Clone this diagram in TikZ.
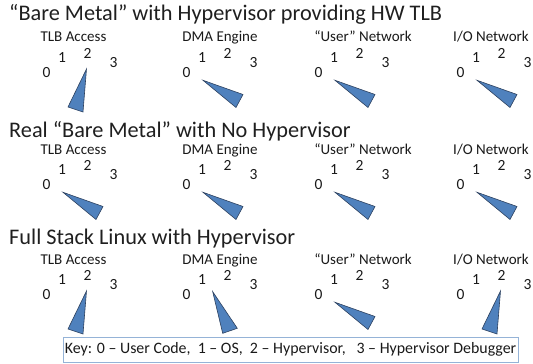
\documentclass[tikz,border=0pt]{standalone}
\usepackage{fontspec}
\setmainfont{Carlito}
\usetikzlibrary{calc}
\definecolor{needlefill}{RGB}{79,129,189}
\definecolor{needleline}{RGB}{45,65,95}
\definecolor{keyline}{RGB}{149,179,215}
\tikzset{
  rowtitle/.style={anchor=base west,inner sep=0pt,font=\fontsize{22.3}{25}\selectfont,text=black!88},
  subtitle/.style={anchor=base,inner sep=0pt,font=\fontsize{15}{17}\selectfont,text=black!90},
  digit/.style={inner sep=0pt,font=\fontsize{15.5}{17}\selectfont,text=black!90},
  needle/.style={fill=needlefill,draw=needleline,line width=0.6pt,line join=miter},
  keybox/.style={draw=keyline,line width=0.8pt,minimum width=455pt,minimum height=25pt,inner sep=0pt,font=\fontsize{15.9}{18}\selectfont,text=black!90}
}
% #1 name, #2 x of "0", #3 y of "0", #4 value, #5 subtitle, #6 subtitle x, #7 subtitle baseline
\newcommand{\drawgauge}[7]{%
  \node[subtitle] (#1t) at (#6,#7) {#5};
  \node[digit] (#1d0) at (#2,#3) {0};
  \node[digit] (#1d1) at ($(#1d0)+(15.5,-15)$) {1};
  \node[digit] (#1d2) at ($(#1d0)+(41,-20)$) {2};
  \node[digit] (#1d3) at ($(#1d0)+(67,-10)$) {3};
  \ifcase#4
    \draw[needle] ($(#1d0)+(16.5,7.3)$) -- ($(#1d0)+(56.5,21.5)$) -- ($(#1d0)+(49.5,34.5)$) -- cycle;
  \or
    \draw[needle] ($(#1d0)+(26.2,-3.3)$) -- ($(#1d0)+(50.8,33.3)$) -- ($(#1d0)+(36.2,38.3)$) -- cycle;
  \or
    \draw[needle] ($(#1d0)+(40,-4)$) -- ($(#1d0)+(21.5,34)$) -- ($(#1d0)+(36.5,39)$) -- cycle;
  \fi
}
\begin{document}
\begin{tikzpicture}[x=1pt,y=-1pt]
\useasboundingbox (0,0) rectangle (533,364);
% row 1
\node[rowtitle] (r1) at (9,20) {“Bare Metal” with Hypervisor providing HW TLB};
\drawgauge{a1}{46.5}{73}{2}{TLB Access}{73.5}{41.7}
\drawgauge{a2}{186.5}{73}{0}{DMA Engine}{220}{41.7}
\drawgauge{a3}{318.5}{73}{0}{“User” Network}{363}{41.7}
\drawgauge{a4}{460.5}{73}{0}{I/O Network}{491}{41.7}
% row 2
\node[rowtitle] (r2) at (9,137) {Real “Bare Metal” with No Hypervisor};
\drawgauge{b1}{46.5}{185}{0}{TLB Access}{73.5}{154.5}
\drawgauge{b2}{186.5}{185}{0}{DMA Engine}{220}{154.5}
\drawgauge{b3}{318.5}{185}{0}{“User” Network}{363}{154.5}
\drawgauge{b4}{460.5}{185}{0}{I/O Network}{491}{154.5}
% row 3
\node[rowtitle] (r3) at (9,244.5) {Full Stack Linux with Hypervisor};
\drawgauge{c1}{46.5}{295}{2}{TLB Access}{73.5}{264.3}
\drawgauge{c2}{186.5}{295}{1}{DMA Engine}{220}{264.3}
\drawgauge{c3}{318.5}{295}{0}{“User” Network}{363}{264.3}
\drawgauge{c4}{460.5}{295}{2}{I/O Network}{491}{264.3}
% key
\node[keybox] (key) at (290.5,349.5) {Key: 0 – User Code,\ \ 1 – OS,\ \ 2 – Hypervisor,\ \ \ 3 – Hypervisor Debugger};
\end{tikzpicture}
\end{document}
